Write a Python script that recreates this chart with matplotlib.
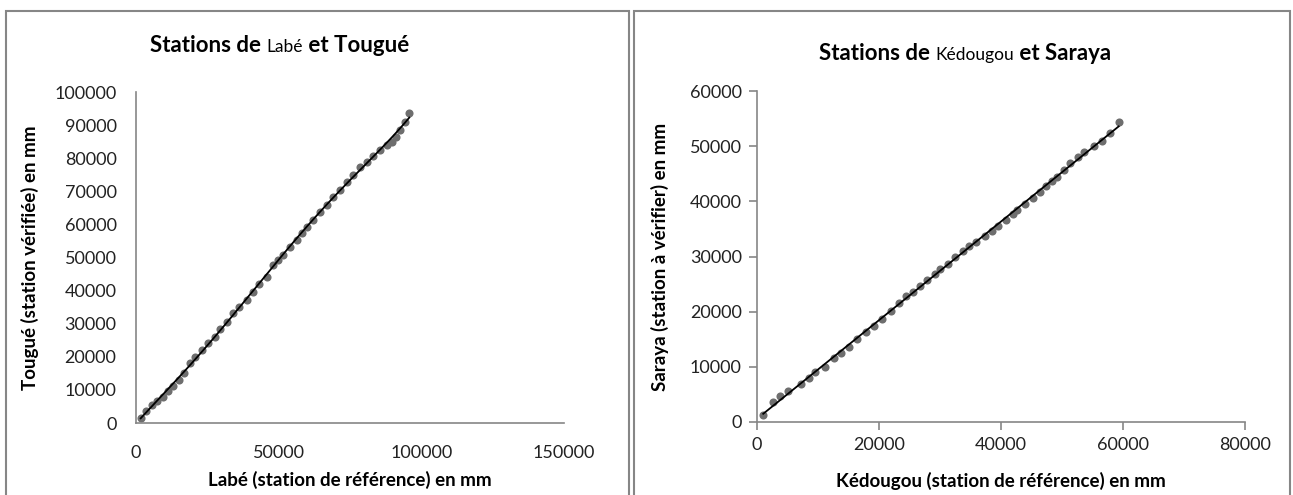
import numpy as np
import matplotlib.pyplot as plt
from matplotlib.patches import Rectangle
from matplotlib.transforms import IdentityTransform

plt.rcParams['font.family'] = ['Lato', 'DejaVu Sans']

# Labé / Tougué cumulative rainfall (mm)
labe = [1635, 3500, 5490, 7250, 9350, 11330, 13080, 15190, 16830, 18920,
        20670, 23010, 25340, 27690, 29430, 31770, 34100, 36210, 38780, 41120,
        43220, 45790, 48120, 49880, 51630, 53970, 56300, 58050, 59810, 62140,
        64470, 66820, 69150, 71490, 73820, 76160, 78490, 80830, 83170, 85510,
        87840, 89600, 91110, 92510, 94270, 95780]
tougue = [1410, 3630, 5440, 6750, 7960, 9670, 11180, 12990, 15000, 18230,
          20040, 22050, 24070, 26080, 28300, 30610, 33130, 35140, 37160, 39680,
          41990, 44210, 47730, 49240, 50750, 53270, 55280, 57300, 59310, 61330,
          63840, 65860, 68370, 70390, 72910, 74920, 77240, 78950, 80660, 82470,
          83980, 84990, 86500, 88520, 91030, 93750]

# Kédougou / Saraya cumulative rainfall (mm)
kedougou = [1020, 2600, 3840, 5080, 7220, 8460, 9590, 11170, 12580, 13710,
            15010, 16420, 17830, 19180, 20480, 21890, 23300, 24430, 25560, 26690,
            27810, 29110, 30070, 31310, 32440, 33740, 34700, 35880, 37410, 38530,
            39550, 40790, 41920, 42650, 43890, 45190, 46320, 47450, 48410, 49140,
            50380, 51340, 52640, 53600, 55290, 56480, 57890, 59300]
saraya = [1330, 3580, 4670, 5700, 6920, 8010, 9040, 10010, 11530, 12440,
          13650, 14990, 16380, 17410, 18630, 20140, 21660, 22870, 23600, 24570,
          25720, 26820, 27730, 28640, 29970, 30940, 31850, 32700, 33790, 34700,
          35490, 36650, 37740, 38460, 39440, 40590, 41680, 42710, 43620, 44410,
          45740, 46960, 48050, 48960, 49990, 50960, 52300, 54300]

W, H = 1293, 495
fig = plt.figure(figsize=(W / 100, H / 100), dpi=100)
fig.patch.set_facecolor('white')

gray = '#868686'
pt_color = '#6e6e6e'
txt = '#000000'

# panel frames
for x0, x1 in [(6, 629), (634, 1290)]:
    fig.patches.append(Rectangle((x0, -20), x1 - x0, H - 11 + 20, transform=IdentityTransform(),
                                 fill=False, edgecolor=gray, linewidth=1.5))


def axes_px(left, right, bottom_img, top_img):
    return fig.add_axes([left / W, (H - bottom_img) / H, (right - left) / W, (bottom_img - top_img) / H])


def rich_title(xc, y_img, parts):
    r = fig.canvas.get_renderer()
    items = []
    for s, size, w in parts:
        t = fig.text(0, H - y_img, s, fontsize=size, weight=w, va='baseline', ha='left',
                     transform=IdentityTransform(), color=txt)
        items.append((t, t.get_window_extent(r).width))
    total = sum(w for _, w in items)
    x = xc - total / 2
    for t, w in items:
        t.set_x(x)
        x += w


def style(ax, ticks):
    for s in ['top', 'right']:
        ax.spines[s].set_visible(False)
    for s in ['left', 'bottom']:
        ax.spines[s].set_color(gray)
        ax.spines[s].set_linewidth(1.2)
    if ticks:
        ax.tick_params(direction='out', length=6, width=1.2, color=gray, pad=5,
                       labelsize=13, labelcolor='#222222')
    else:
        ax.tick_params(length=0, labelsize=13, labelcolor='#222222')
        ax.tick_params(axis='y', pad=14)
        ax.tick_params(axis='x', pad=16)


def labels(ax, xl, yl, xpos, ypos):
    ax.set_xlabel(xl, fontsize=13.5, weight='bold')
    ax.set_ylabel(yl, fontsize=13.5, weight='bold')
    ax.xaxis.label.set_va('center')
    ax.yaxis.label.set_va('center')
    ax.xaxis.set_label_coords(0.5, xpos)
    ax.yaxis.set_label_coords(ypos, 0.5)


# left chart
ax1 = axes_px(136, 564, 423, 92)
ax1.scatter(labe, tougue, s=34, color=pt_color, zorder=2, linewidths=0)
c1 = np.polyfit(labe, tougue, 5)
xs = np.linspace(min(labe), max(labe), 200)
ax1.plot(xs, np.polyval(c1, xs), color='black', lw=1.3, zorder=3)
ax1.set_xlim(0, 150000)
ax1.set_ylim(0, 100000)
ax1.set_xticks([0, 50000, 100000, 150000])
ax1.set_yticks(np.arange(0, 100001, 10000))
style(ax1, False)
labels(ax1, 'Labé (station de référence) en mm', 'Tougué (station vérifiée) en mm', -0.172, -0.248)

# right chart
ax2 = axes_px(757, 1245, 422, 91)
ax2.scatter(kedougou, saraya, s=34, color=pt_color, zorder=2, linewidths=0)
c2 = np.polyfit(kedougou, saraya, 1)
xs2 = np.linspace(min(kedougou), max(kedougou), 50)
ax2.plot(xs2, np.polyval(c2, xs2), color='black', lw=1.3, zorder=3)
ax2.set_xlim(0, 80000)
ax2.set_ylim(0, 60000)
ax2.set_xticks([0, 20000, 40000, 60000, 80000])
ax2.set_yticks(np.arange(0, 60001, 10000))
style(ax2, True)
labels(ax2, 'Kédougou (station de référence) en mm', 'Saraya (station à vérifier) en mm', -0.178, -0.199)

rich_title(280, 52, [('Stations de ', 16, 'bold'), ('Labé', 12.5, 'normal'), (' et Tougué', 16, 'bold')])
rich_title(965, 60, [('Stations de ', 16, 'bold'), ('Kédougou', 12.5, 'normal'), (' et Saraya', 16, 'bold')])

fig.savefig('out.png', dpi=100)
